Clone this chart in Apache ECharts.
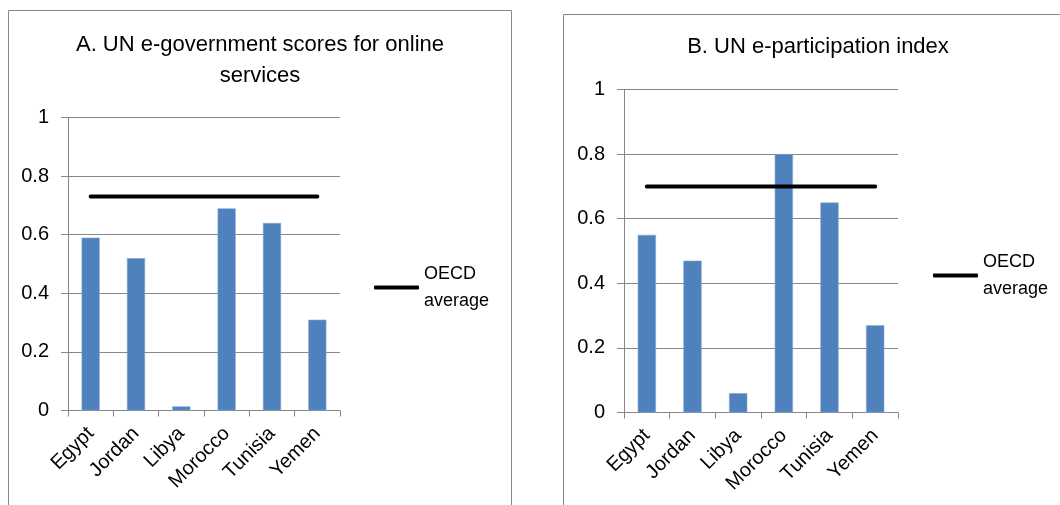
<!DOCTYPE html>
<html>
<head>
<meta charset="utf-8">
<title>UN e-government and e-participation</title>
<script src="https://cdn.jsdelivr.net/npm/echarts@6/dist/echarts.min.js"></script>
<style>
  html, body { margin: 0; padding: 0; background: #ffffff; }
  #chart { width: 1060px; height: 505px; }
</style>
</head>
<body>
<div id="chart"></div>
<script>
// Countries shown on both panels
const countries = ['Egypt', 'Jordan', 'Libya', 'Morocco', 'Tunisia', 'Yemen'];

// Panel A: UN e-government scores for online services
const onlineServiceScores = [0.59, 0.52, 0.014, 0.69, 0.64, 0.31];
const onlineServiceOecd = [0.73, 0.73, 0.73, 0.73, 0.73, 0.73];

// Panel B: UN e-participation index
const eParticipationScores = [0.55, 0.47, 0.06, 0.80, 0.65, 0.27];
const eParticipationOecd = [0.70, 0.70, 0.70, 0.70, 0.70, 0.70];

// Value axis ticks
const yMin = 0;
const yMax = 1;
const yStep = 0.2;

const panelTitles = ['A. UN e-government scores for online\nservices', 'B. UN e-participation index'];
const oecdName = 'OECD average';

const FONT = '"Liberation Sans", Arial, sans-serif';
const GRAY = '#878787';
const BAR = '#4F81BD';

function valueAxis(gridIndex) {
  return {
    type: 'value',
    gridIndex: gridIndex,
    min: yMin,
    max: yMax,
    interval: yStep,
    axisLine: { show: true, lineStyle: { color: GRAY, width: 1 } },
    axisTick: { show: true, length: 7, lineStyle: { color: GRAY } },
    splitLine: { show: true, lineStyle: { color: GRAY, width: 1 } },
    axisLabel: { color: '#000', fontFamily: FONT, fontSize: 20, margin: 19 }
  };
}

function categoryAxis(gridIndex) {
  return {
    type: 'category',
    gridIndex: gridIndex,
    data: countries,
    boundaryGap: true,
    axisLine: { show: true, lineStyle: { color: GRAY, width: 1 } },
    axisTick: { show: true, length: 6, interval: 0, lineStyle: { color: GRAY } },
    axisLabel: { color: '#000', fontFamily: FONT, fontSize: 20, rotate: 45, interval: 0, margin: 20 }
  };
}

function barSeries(index, values) {
  return {
    type: 'bar',
    xAxisIndex: index,
    yAxisIndex: index,
    data: values,
    barWidth: '40%',
    itemStyle: { color: BAR, borderColor: '#86a8d4', borderWidth: 0.6 },
    silent: true
  };
}

function oecdSeries(index, values) {
  return {
    type: 'line',
    name: oecdName,
    xAxisIndex: index,
    yAxisIndex: index,
    data: values,
    symbol: 'none',
    showSymbol: false,
    lineStyle: { color: '#000', width: 4, cap: 'round' },
    itemStyle: { color: '#000' },
    silent: true
  };
}

function legend(left, top) {
  return {
    left: left,
    top: top,
    orient: 'vertical',
    padding: 0,
    itemWidth: 45,
    itemHeight: 4,
    selectedMode: false,
    data: [{ name: oecdName, icon: 'roundRect', itemStyle: { color: '#000' } }],
    formatter: function () { return 'OECD\naverage'; },
    textStyle: { color: '#000', fontFamily: FONT, fontSize: 18, lineHeight: 27, padding: [27, 0, 0, 0] }
  };
}

const chart = echarts.init(document.getElementById('chart'), null, { renderer: 'canvas' });

chart.setOption({
  animation: false,
  backgroundColor: '#ffffff',
  title: [
    {
      text: panelTitles[0], left: 260, top: 29, textAlign: 'center', padding: 0,
      textStyle: { fontFamily: FONT, fontSize: 22, fontWeight: 'normal', color: '#000', lineHeight: 31 }
    },
    {
      text: panelTitles[1], left: 818, top: 33, textAlign: 'center', padding: 0,
      textStyle: { fontFamily: FONT, fontSize: 22, fontWeight: 'normal', color: '#000', lineHeight: 28 }
    }
  ],
  legend: [legend(374, 247), legend(933, 235)],
  grid: [
    { left: 68, top: 117.5, width: 272, height: 293, containLabel: false },
    { left: 624, top: 89.5, width: 274, height: 323, containLabel: false }
  ],
  xAxis: [categoryAxis(0), categoryAxis(1)],
  yAxis: [valueAxis(0), valueAxis(1)],
  series: [
    barSeries(0, onlineServiceScores),
    oecdSeries(0, onlineServiceOecd),
    barSeries(1, eParticipationScores),
    oecdSeries(1, eParticipationOecd)
  ],
  graphic: [
    // frames around the two panels
    { type: 'rect', silent: true, z: -1, shape: { x: 8.5, y: 10.5, width: 503, height: 600 },
      style: { fill: null, stroke: GRAY, lineWidth: 1 } },
    { type: 'rect', silent: true, z: -1, shape: { x: 563.5, y: 14.5, width: 600, height: 600 },
      style: { fill: null, stroke: GRAY, lineWidth: 1 } }
  ]
});
</script>
</body>
</html>
